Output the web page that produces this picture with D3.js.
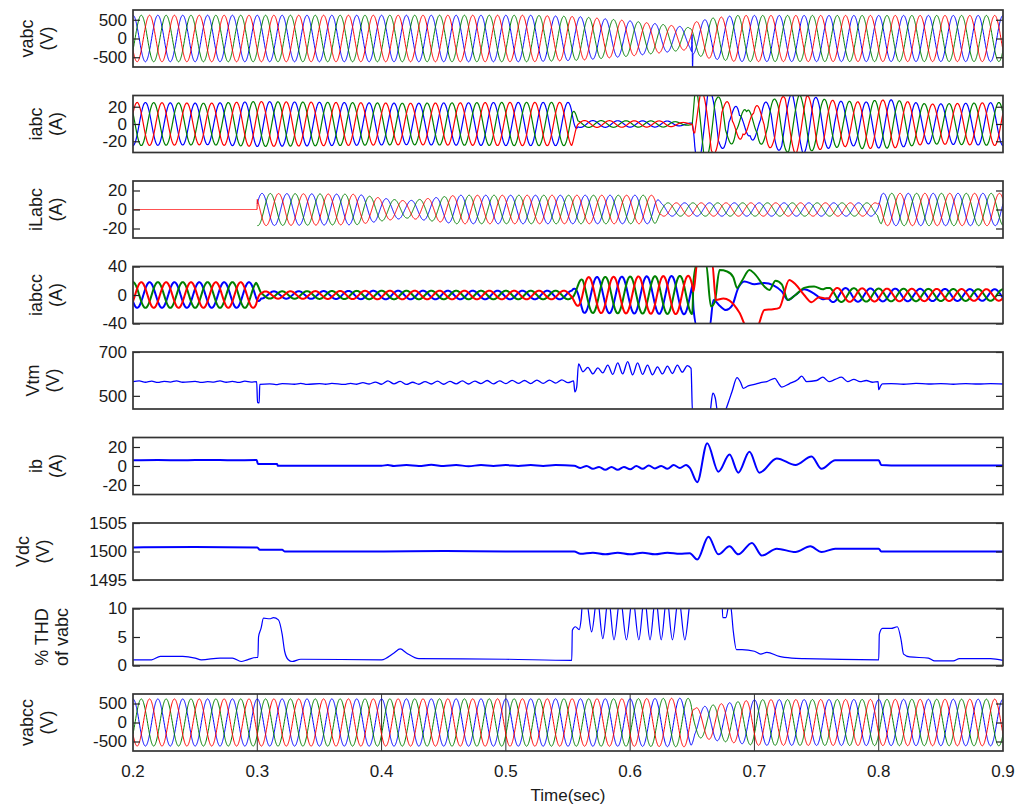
<!DOCTYPE html>
<meta charset="utf-8">
<style>
body { margin: 0; padding: 0; background: #fff; }
svg { font-family: "Liberation Sans", Arial, sans-serif; }
.frame { fill: none; stroke: #333; stroke-width: 1.7px; }
.ytick { font-size: 17px; fill: #1a1a1a; }
.ylab { font-size: 18px; fill: #1a1a1a; }
.xtick { font-size: 17px; fill: #1a1a1a; }
.trace { fill: none; stroke-linejoin: round; }
</style>
<body>
<svg width="1017" height="810"></svg>
<script src="https://d3js.org/d3.v7.min.js"></script>
<script>
var FREQ = 50;                       // supply frequency, Hz
var PI = Math.PI;
var timeTicks = [0.2, 0.3, 0.4, 0.5, 0.6, 0.7, 0.8, 0.9];

// ---- three phase signals: peak value, [sec, peak] ----
var vabcPeak  = [[0.2,620],[0.52,620],[0.56,580],[0.6,470],[0.63,360],[0.648,290],[0.651,430],[0.665,540],[0.685,615],[0.9,615]];
var vabcSpike = [[0.6494,0],[0.6498,480],[0.6502,-520],[0.6506,0]];   // blue phase glitch at the fault
var iabcPeak  = [[0.2,25],[0.26,24],[0.3,26],[0.36,25],[0.42,24],[0.5,25],[0.553,25],[0.558,4],[0.63,3.5],[0.645,1.5],[0.65,1],[0.652,28],[0.7,28],[0.76,27],[0.78,27],[0.81,28],[0.84,23],[0.9,25]];
var iabcShift = [[0.2,PI],[0.65,PI],[0.6502,PI+1.47],[0.69,PI+1.0],[0.74,PI],[0.9,PI]];
// slower swing riding on each phase after the fault (same rhythm as ib)
var iabcDcBlue  = [[0.65,0],[0.654,-24],[0.6625,21],[0.671,-20],[0.6795,18],[0.688,-16],[0.6965,14],[0.705,-13],[0.7135,12],[0.722,-10],[0.7305,9],[0.739,-8],[0.7475,7],[0.756,-6],[0.7645,5],[0.773,-4],[0.7815,3],[0.79,-2],[0.8,0]];
var iabcDcGreen = [[0.65,0],[0.654,13],[0.6597,-22],[0.6682,20],[0.6767,-18],[0.6852,16],[0.6937,-14],[0.7022,12],[0.7107,-11],[0.7192,10],[0.7277,-8],[0.7362,7],[0.7447,-6],[0.7532,5],[0.7617,-4],[0.7702,3],[0.7787,-2],[0.8,0]];
var iabcDcRed   = [[0.65,0],[0.6568,15],[0.6653,-21],[0.6738,20],[0.6823,-17],[0.6908,16],[0.6993,-13],[0.7078,12],[0.7163,-11],[0.7248,9],[0.7333,-8],[0.7418,7],[0.7503,-6],[0.7588,5],[0.7673,-4],[0.7758,3],[0.7843,-2],[0.8,0]];
var iLabcPeak = [[0.2,0],[0.2999,0],[0.3,17],[0.38,16],[0.4,12],[0.42,9],[0.44,12],[0.46,15],[0.55,15],[0.62,15],[0.625,7],[0.799,7],[0.802,17],[0.9,17]];
var iabccPeak = [[0.2,18],[0.299,18],[0.303,5],[0.4,6],[0.5,6],[0.553,6],[0.562,25],[0.648,27],[0.76,10],[0.8,9],[0.9,8]];
var vabccPeak = [[0.2,620],[0.6,625],[0.645,640],[0.649,630],[0.652,380],[0.67,480],[0.7,600],[0.9,615]];

// iabcc transient window, drawn from points read per phase (blue, green, red)
var iabccWin = [0.65, 0.76];
var iabccTrBlue  = [[0.651,-20],[0.654,-45],[0.664,-45],[0.667,-7],[0.672,-15],[0.677,-21],[0.682,-15],[0.687,10],[0.692,19],[0.7,15],[0.708,17],[0.715,14],[0.722,5],[0.727,-7],[0.733,0],[0.74,8],[0.748,2],[0.755,-6],[0.758,-5]];
var iabccTrGreen = [[0.651,20],[0.654,45],[0.661,45],[0.665,-16],[0.668,-10],[0.672,35],[0.678,33],[0.683,25],[0.686,10],[0.69,20],[0.696,35],[0.7,30],[0.708,12],[0.712,7],[0.717,20],[0.722,15],[0.727,-7],[0.733,0],[0.74,10],[0.748,12],[0.755,8],[0.758,10]];
var iabccTrRed   = [[0.651,5],[0.654,45],[0.666,45],[0.669,-7],[0.675,-5],[0.68,-8],[0.688,-25],[0.694,-45],[0.702,-45],[0.708,-21],[0.715,-20],[0.72,-18],[0.728,21],[0.733,15],[0.74,0],[0.746,-10],[0.752,-3],[0.758,-5]];

// ---- single traces, [sec, value] ----
var vtm = [[0.2,565],[0.205,568],[0.21,562],[0.215,567],[0.22,561],[0.225,566],[0.23,563],[0.235,568],[0.24,562],[0.25,566],[0.255,561],[0.26,565],[0.265,563],[0.27,568],[0.275,562],[0.28,566],[0.285,561],[0.29,567],[0.295,563],[0.2995,565],[0.3002,470],[0.3015,468],[0.302,552],[0.31,555],[0.315,551],[0.32,556],[0.33,553],[0.335,557],[0.34,552],[0.35,556],[0.355,553],[0.36,557],[0.37,552],[0.375,557],[0.38,553],[0.385,560],[0.39,554],[0.395,563],[0.4,553],[0.405,568],[0.41,555],[0.415,566],[0.42,552],[0.425,562],[0.43,553],[0.435,565],[0.44,554],[0.445,567],[0.45,553],[0.455,566],[0.46,555],[0.465,568],[0.47,554],[0.475,567],[0.48,556],[0.485,570],[0.49,555],[0.495,568],[0.5,556],[0.505,571],[0.51,557],[0.515,570],[0.52,556],[0.525,572],[0.53,557],[0.535,572],[0.54,558],[0.545,573],[0.55,560],[0.5545,568],[0.5555,518],[0.557,540],[0.5585,646],[0.562,610],[0.566,630],[0.57,600],[0.574,628],[0.578,605],[0.582,640],[0.586,598],[0.59,650],[0.594,600],[0.598,656],[0.602,596],[0.606,650],[0.61,598],[0.614,640],[0.618,596],[0.622,632],[0.626,600],[0.63,636],[0.634,602],[0.638,640],[0.642,608],[0.646,638],[0.649,625],[0.6502,420],[0.664,420],[0.6665,512],[0.6685,490],[0.6705,425],[0.676,430],[0.679,470],[0.682,520],[0.686,583],[0.689,560],[0.691,534],[0.695,545],[0.7,552],[0.705,560],[0.71,565],[0.7165,580],[0.719,560],[0.722,540],[0.728,555],[0.735,575],[0.738,590],[0.742,565],[0.75,570],[0.755,585],[0.76,565],[0.765,575],[0.77,585],[0.775,565],[0.78,575],[0.785,565],[0.79,570],[0.795,562],[0.7995,565],[0.8,528],[0.8015,545],[0.803,555],[0.81,556],[0.82,553],[0.83,557],[0.84,554],[0.85,556],[0.86,553],[0.87,556],[0.88,554],[0.89,556],[0.9,554]];

var ib = [[0.2,6],[0.22,6.3],[0.24,6],[0.26,6.4],[0.28,6],[0.2995,6.3],[0.3005,2],[0.316,2],[0.3165,0.3],[0.4,0.3],[0.405,1],[0.41,0],[0.42,1],[0.43,0],[0.44,1.2],[0.45,0],[0.46,1],[0.47,-0.2],[0.48,1],[0.49,0],[0.5,1],[0.51,0],[0.52,1],[0.53,0],[0.54,1],[0.555,0.3],[0.56,-2],[0.565,0],[0.57,-3],[0.575,-1],[0.58,-4],[0.585,-1],[0.59,-4],[0.595,-1],[0.6,-3.5],[0.605,0],[0.61,-3],[0.615,0.5],[0.62,-2.5],[0.625,0],[0.63,-3],[0.635,1],[0.64,-2],[0.645,1],[0.648,-2],[0.654,-17],[0.662,24],[0.671,-6],[0.68,12],[0.687,-7],[0.696,15],[0.704,-7],[0.718,8],[0.733,1],[0.746,10],[0.754,-3],[0.765,6],[0.8,6],[0.802,1],[0.81,0.5],[0.9,0.5]];

var vdc = [[0.2,1500.7],[0.25,1500.8],[0.3,1500.7],[0.302,1500.3],[0.32,1500.3],[0.322,1500.0],[0.4,1500.0],[0.45,1500.1],[0.5,1500.0],[0.555,1500.0],[0.56,1499.6],[0.57,1499.8],[0.58,1499.5],[0.59,1499.8],[0.6,1499.5],[0.61,1499.8],[0.62,1499.5],[0.63,1499.8],[0.64,1499.6],[0.648,1499.7],[0.654,1498.6],[0.663,1502.6],[0.671,1499.5],[0.68,1500.9],[0.687,1499.5],[0.698,1501.5],[0.706,1499.3],[0.718,1500.5],[0.733,1499.9],[0.745,1500.9],[0.754,1499.9],[0.765,1500.5],[0.8,1500.5],[0.802,1500.0],[0.9,1500.0]];

var thd = [[0.2,1.0],[0.215,1.0],[0.222,1.6],[0.24,1.6],[0.25,1.3],[0.255,1.0],[0.27,1.3],[0.28,1.3],[0.287,0.7],[0.292,1.0],[0.299,1.4],[0.3005,1.4],[0.301,5],[0.303,6.5],[0.305,8.3],[0.31,8.2],[0.313,8.4],[0.317,8.0],[0.32,5.5],[0.322,2.5],[0.325,1.0],[0.328,0.7],[0.335,1.1],[0.4,1.0],[0.41,2.2],[0.415,2.9],[0.42,2.2],[0.43,1.2],[0.5,1.1],[0.553,0.9],[0.5535,6.2],[0.556,6.8],[0.559,6.3],[0.5605,8],[0.5615,10.5],[0.565,11],[0.569,5.9],[0.5735,12],[0.578,4.7],[0.5825,12],[0.587,4.5],[0.592,12],[0.597,4.5],[0.602,12],[0.607,4.5],[0.6115,12],[0.616,4.5],[0.6205,12],[0.625,4.5],[0.6295,12],[0.634,4.5],[0.639,12],[0.644,4.5],[0.648,11],[0.65,14],[0.6735,14],[0.6745,8.4],[0.677,8.4],[0.6795,10.5],[0.681,10.2],[0.683,6],[0.6855,2.8],[0.69,2.8],[0.7,2.5],[0.705,2],[0.71,2.3],[0.72,1.6],[0.73,1.3],[0.74,1.2],[0.8,1.0],[0.8005,5.5],[0.803,6.5],[0.81,6.5],[0.815,6.8],[0.818,4.5],[0.82,2],[0.825,1.5],[0.84,1.3],[0.845,0.8],[0.86,0.8],[0.865,1.2],[0.89,1.2],[0.9,0.9]];

var blue = "#0000ff", green = "#008000", red = "#ff0000";

// keypoint list -> piecewise linear function of time
function kp(arr) {
    return d3.scaleLinear().domain(arr.map(function(d) { return d[0]; }))
        .range(arr.map(function(d) { return d[1]; })).clamp(true);
}

// three phase curves: 50 Hz carrier scaled by the read peak, plus optional
// phase drift, per-phase offsets, and a window drawn from read points instead.
// phases that are still zero before `from` are left out so the red one shows alone
function threePhase(o) {
    var amp = kp(o.peak);
    var shift = typeof o.shift === "number" ? function() { return o.shift; } : kp(o.shift);
    var dc = (o.dc || [null, null, null]).map(function(a) { return a ? kp(a) : function() { return 0; }; });
    var ts = d3.range(0, 3501).map(function(i) { return 0.2 + i * 0.0002; });
    var phases = [0, -2 * PI / 3, 2 * PI / 3];  // blue, green, red
    return phases.map(function(ph, k) {
        var pts = [];
        ts.forEach(function(t) {
            if (o.win && t > o.win[0] && t < o.win[1]) return;
            if (o.from && k < 2 && t < o.from) return;
            pts.push([t, amp(t) * Math.cos(2 * PI * FREQ * t + ph + shift(t)) + dc[k](t)]);
        });
        if (o.win) pts = pts.concat(o.over[k]).sort(function(a, b) { return a[0] - b[0]; });
        return pts;
    });
}

var vabc  = threePhase({ peak: vabcPeak, shift: 0, dc: [vabcSpike, null, null] });
var iabc  = threePhase({ peak: iabcPeak, shift: iabcShift, dc: [iabcDcBlue, iabcDcGreen, iabcDcRed] });
var iLabc = threePhase({ peak: iLabcPeak, shift: -1.2, from: 0.3 });
var iabcc = threePhase({ peak: iabccPeak, shift: 2 * PI / 3, win: iabccWin, over: [iabccTrBlue, iabccTrGreen, iabccTrRed] });
var vabcc = threePhase({ peak: vabccPeak, shift: 0 });

var panels = [
    { lab: ["vabc", "(V)"],    dom: [-760, 760],   ticks: [500, 0, -500], lines: vabc,  w: 1 },
    { lab: ["iabc", "(A)"],    dom: [-33, 33],     ticks: [20, 0, -20],   lines: iabc,  w: 1.2 },
    { lab: ["iLabc", "(A)"],   dom: [-30, 30],     ticks: [20, 0, -20],   lines: iLabc, w: 1 },
    { lab: ["iabcc", "(A)"],   dom: [-40, 40],     ticks: [40, 0, -40],   lines: iabcc, w: 2 },
    { lab: ["Vtm", "(V)"],     dom: [440, 700],    ticks: [700, 500],     lines: [vtm], w: 1.3, color: [blue] },
    { lab: ["ib", "(A)"],      dom: [-30, 30],     ticks: [20, 0, -20],   lines: [ib],  w: 2, color: [blue] },
    { lab: ["Vdc", "(V)"],     dom: [1495, 1505],  ticks: [1505, 1500, 1495], lines: [vdc], w: 2, color: [blue] },
    { lab: ["% THD", "of vabc"], dom: [0, 10],     ticks: [10, 5, 0],     lines: [thd], w: 1.2, color: [blue] },
    { lab: ["vabcc", "(V)"],   dom: [-750, 750],   ticks: [500, 0, -500], lines: vabcc, w: 1, grid: true }
];

var svg = d3.select("svg");
var left = 133, right = 1003, panelH = 57, step = 85.5;

var x = d3.scaleLinear().domain([0.2, 0.9]).range([left, right]);

panels.forEach(function(p, i) {
    var top = 10 + i * step, bottom = top + panelH;
    var y = d3.scaleLinear().domain(p.dom).range([bottom, top]);
    var g = svg.append("g");

    g.append("clipPath").attr("id", "clip" + i)
      .append("rect").attr("x", left).attr("y", top).attr("width", right - left).attr("height", panelH);

    if (p.grid) {
        g.selectAll(".grid").data(timeTicks.slice(1, -1)).enter().append("line")
            .attr("x1", function(d) { return x(d); }).attr("x2", function(d) { return x(d); })
            .attr("y1", top).attr("y2", bottom)
            .attr("stroke", "#333").attr("stroke-width", 1);
    }

    var line = d3.line()
        .x(function(d) { return x(d[0]); })
        .y(function(d) { return y(d[1]); })
        .curve(d3.curveMonotoneX);

    var colors = p.color || [blue, green, red];
    g.append("g").attr("clip-path", "url(#clip" + i + ")")
      .selectAll("path").data(p.lines).enter().append("path")
        .attr("class", "trace")
        .attr("d", line)
        .attr("stroke", function(d, k) { return colors[k]; })
        .attr("stroke-width", p.w);

    // inner tick marks on both sides, labels on the left (plain hyphen for minus)
    var axL = d3.axisLeft(y).tickValues(p.ticks).tickSizeInner(-7).tickSizeOuter(0).tickPadding(6)
        .tickFormat(function(d) { return String(d); });
    var axR = d3.axisRight(y).tickValues(p.ticks).tickSizeInner(-7).tickSizeOuter(0).tickFormat("");
    var gl = g.append("g").attr("transform", "translate(" + left + ",0)").call(axL);
    var gr = g.append("g").attr("transform", "translate(" + right + ",0)").call(axR);
    [gl, gr].forEach(function(a) {
        a.select(".domain").remove();
        a.selectAll("line").attr("stroke", "#222").attr("stroke-width", 1.2);
    });
    gl.selectAll("text").attr("class", "ytick").attr("font-size", null).attr("font-family", null).attr("fill", null);

    g.append("rect").attr("class", "frame")
        .attr("x", left).attr("y", top).attr("width", right - left).attr("height", panelH);

    // two-line rotated label, kept a fixed gap left of the tick labels
    var tickLeft = d3.min(gl.selectAll("text").nodes(), function(n) { return n.getBBox().x; }) + left;
    var lab = g.append("text").attr("class", "ylab")
        .attr("transform", "translate(" + (tickLeft - 40) + "," + (top + panelH / 2) + ") rotate(-90)")
        .attr("text-anchor", "middle");
    lab.append("tspan").attr("x", 0).attr("y", -20).text(p.lab[0]);
    lab.append("tspan").attr("x", 0).attr("y", 0).text(p.lab[1]);
});

svg.append("g").selectAll("text").data(timeTicks).enter().append("text")
    .attr("class", "xtick")
    .attr("x", function(d) { return x(d); })
    .attr("y", 777)
    .attr("text-anchor", "middle")
    .text(function(d) { return d3.format(".1f")(d); });

svg.append("text").attr("class", "xtick")
    .attr("x", (left + right) / 2).attr("y", 801)
    .attr("text-anchor", "middle")
    .text("Time(sec)");
</script>
</body>
